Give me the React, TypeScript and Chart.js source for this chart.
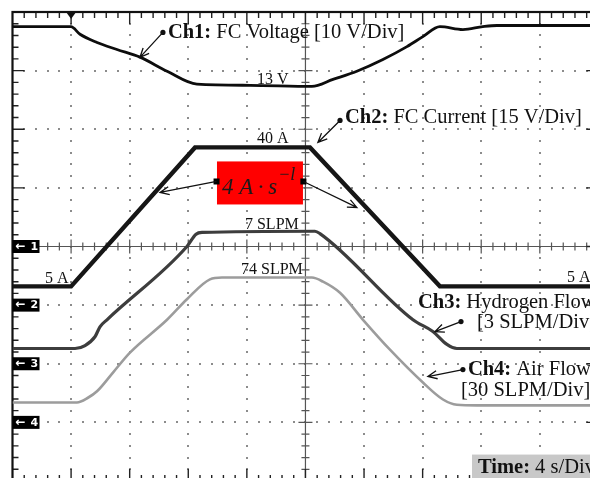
import React, { useEffect, useRef } from "react";
import { Chart, registerables } from "chart.js";

Chart.register(...registerables);

// ---- Scope settings ----
const SEC_PER_DIV = 4;
const X_DIVS = 10;
const Y_DIVS = 8;
const channelMarkers = ["1", "2", "3", "4"];
const channelMarkerDiv = [0, -1, -2, -3];
const triggerTime = 4;

// ---- Traces (time in s, level in screen divisions) ----
const ch1Time = [0, 3.99, 4.61, 5.77, 7.13, 8.7, 10.55, 12.59, 16.21, 20.44, 21.88, 23.51, 25.29, 26.93, 28.02, 29.18, 30.75, 32.11, 33.07, 40];
const ch1Div = [3.75, 3.75, 3.62, 3.48, 3.36, 3.23, 2.99, 2.77, 2.75, 2.73, 2.85, 2.99, 3.19, 3.41, 3.58, 3.75, 3.7, 3.75, 3.77, 3.77];

const ch2Time = [0, 4.0, 12.46, 20.31, 29.18, 40];
const ch2Div = [-0.68, -0.68, 1.69, 1.69, -0.68, -0.68];

const ch3Time = [0, 4.27, 4.95, 5.63, 5.97, 6.45, 11.91, 12.53, 12.94, 20.65, 20.99, 27.34, 28.7, 29.66, 30.34, 40];
const ch3Div = [-1.74, -1.74, -1.69, -1.54, -1.37, -1.25, 0, 0.21, 0.24, 0.26, 0.22, -1.25, -1.45, -1.67, -1.74, -1.74];

const ch4Time = [0, 4.4, 5.15, 5.77, 6.86, 8.02, 10.55, 11.91, 13.48, 14.3, 20.44, 21.2, 22.36, 23.93, 25.77, 28.02, 29.39, 30.34, 31.71, 40];
const ch4Div = [-2.66, -2.66, -2.58, -2.47, -2.15, -1.81, -1.25, -0.9, -0.56, -0.53, -0.53, -0.6, -0.79, -1.25, -1.76, -2.32, -2.61, -2.7, -2.71, -2.71];

// ---- Annotation texts ----
const levelLabels = ["13 V", "40 A", "7 SLPM", "74 SLPM", "5 A", "5 A"];
const levelLabelAt = [[16.69, 2.85], [16.69, 1.843], [15.87, 0.375], [15.6, -0.392], [2.22, -0.546], [37.85, -0.529]];

const pts = (t: number[], d: number[]) => t.map((v, i) => ({ x: v, y: d[i] }));

const SERIF = '"Liberation Serif", "Times New Roman", serif';

function drawArrow(ctx: CanvasRenderingContext2D, x0: number, y0: number, x1: number, y1: number) {
  ctx.beginPath();
  ctx.moveTo(x0, y0);
  ctx.lineTo(x1, y1);
  const ang = Math.atan2(y1 - y0, x1 - x0);
  const L = 10;
  const s = 0.42;
  ctx.moveTo(x1 - L * Math.cos(ang - s), y1 - L * Math.sin(ang - s));
  ctx.lineTo(x1, y1);
  ctx.lineTo(x1 - L * Math.cos(ang + s), y1 - L * Math.sin(ang + s));
  ctx.stroke();
}

function drawMixed(ctx: CanvasRenderingContext2D, x: number, y: number, boldPart: string, rest: string, size: number) {
  ctx.textBaseline = "middle";
  ctx.textAlign = "left";
  ctx.fillStyle = "#111";
  ctx.font = `bold ${size}px ${SERIF}`;
  ctx.fillText(boldPart, x, y);
  const w = ctx.measureText(boldPart).width;
  ctx.font = `${size}px ${SERIF}`;
  ctx.fillText(rest, x + w, y);
}

const gridPlugin = {
  id: "scopeGrid",
  beforeDatasetsDraw(chart: any) {
    const { ctx, chartArea: a, scales } = chart;
    const xs = scales.x, ys = scales.y;
    const X = (t: number) => xs.getPixelForValue(t);
    const Y = (d: number) => ys.getPixelForValue(d);
    ctx.save();
    ctx.fillStyle = "#8c8c8c";
    // dotted verticals
    for (let i = 1; i < X_DIVS; i++) {
      if (i === X_DIVS / 2) continue;
      const px = X(i * SEC_PER_DIV);
      for (let k = 1; k < Y_DIVS * 5; k++) {
        const py = Y(-Y_DIVS / 2 + k * 0.2);
        ctx.fillRect(Math.round(px) - 1, Math.round(py) - 1, 2, 2);
      }
    }
    // dotted horizontals
    for (let j = 1; j < Y_DIVS; j++) {
      if (j === Y_DIVS / 2) continue;
      const py = Y(-Y_DIVS / 2 + j);
      for (let k = 1; k < X_DIVS * 5; k++) {
        const px = X(k * 0.2 * SEC_PER_DIV);
        ctx.fillRect(Math.round(px) - 1, Math.round(py) - 1, 2, 2);
      }
    }
    // center axes
    ctx.strokeStyle = "#555";
    ctx.lineWidth = 1.2;
    const cx = X((X_DIVS / 2) * SEC_PER_DIV);
    const cy = Y(0);
    ctx.beginPath();
    ctx.moveTo(a.left, cy); ctx.lineTo(a.right, cy);
    ctx.moveTo(cx, a.top); ctx.lineTo(cx, a.bottom);
    for (let k = 1; k < X_DIVS * 5; k++) {
      const px = X(k * 0.2 * SEC_PER_DIV);
      const h = k % 5 === 0 ? 7 : 4;
      ctx.moveTo(px, cy - h); ctx.lineTo(px, cy + h);
    }
    for (let k = 1; k < Y_DIVS * 5; k++) {
      const py = Y(-Y_DIVS / 2 + k * 0.2);
      const h = k % 5 === 0 ? 7 : 4;
      ctx.moveTo(cx - h, py); ctx.lineTo(cx + h, py);
    }
    ctx.stroke();
    // border + border ticks
    ctx.strokeStyle = "#222";
    ctx.lineWidth = 1.4;
    ctx.beginPath();
    for (let k = 1; k < X_DIVS * 5; k++) {
      const px = X(k * 0.2 * SEC_PER_DIV);
      const h = k % 5 === 0 ? 12 : 6;
      ctx.moveTo(px, a.top); ctx.lineTo(px, a.top + h);
      ctx.moveTo(px, a.bottom); ctx.lineTo(px, a.bottom - h);
    }
    for (let k = 1; k < Y_DIVS * 5; k++) {
      const py = Y(-Y_DIVS / 2 + k * 0.2);
      const h = k % 5 === 0 ? 12 : 6;
      ctx.moveTo(a.left, py); ctx.lineTo(a.left + h, py);
      ctx.moveTo(a.right, py); ctx.lineTo(a.right - h, py);
    }
    ctx.stroke();
    ctx.lineWidth = 2.2;
    ctx.strokeStyle = "#111";
    ctx.strokeRect(a.left, a.top, a.right - a.left, a.bottom - a.top);
    ctx.restore();
  },
  afterDatasetsDraw(chart: any) {
    const { ctx, chartArea: a, scales } = chart;
    const xs = scales.x, ys = scales.y;
    const X = (t: number) => xs.getPixelForValue(t);
    const Y = (d: number) => ys.getPixelForValue(d);
    ctx.save();
    // trigger marker
    const tx = X(triggerTime);
    ctx.fillStyle = "#111";
    ctx.beginPath();
    ctx.moveTo(tx - 5, a.top);
    ctx.lineTo(tx + 5, a.top);
    ctx.lineTo(tx, a.top + 7);
    ctx.closePath();
    ctx.fill();
    // channel ground markers
    channelMarkers.forEach((m, i) => {
      const py = Y(channelMarkerDiv[i]);
      ctx.fillStyle = "#000";
      ctx.fillRect(a.left, py - 6.5, 27, 13);
      ctx.fillStyle = "#fff";
      ctx.font = `bold 12px "DejaVu Sans", sans-serif`;
      ctx.textBaseline = "middle";
      ctx.textAlign = "left";
      ctx.fillText("\u2190", a.left + 3, py);
      ctx.font = `bold 11px "DejaVu Sans", sans-serif`;
      ctx.fillText(m, a.left + 18, py + 0.5);
    });

    // level labels
    ctx.fillStyle = "#111";
    ctx.font = `16px ${SERIF}`;
    ctx.textBaseline = "middle";
    ctx.textAlign = "left";
    levelLabels.forEach((s, i) => {
      ctx.fillText(s, X(levelLabelAt[i][0]), Y(levelLabelAt[i][1]));
    });

    ctx.strokeStyle = "#111";
    ctx.fillStyle = "#111";
    ctx.lineWidth = 1.3;
    const dot = (t: number, d: number) => {
      ctx.fillStyle = "#111";
      ctx.beginPath();
      ctx.arc(X(t), Y(d), 2.6, 0, Math.PI * 2);
      ctx.fill();
    };
    const LBL = 20.5;
    // Ch1
    dot(10.27, 3.652);
    drawArrow(ctx, X(10.27), Y(3.652), X(8.7), Y(3.225));
    drawMixed(ctx, X(10.61), Y(3.652), "Ch1:", " FC Voltage [10 V/Div]", LBL);
    // Ch2
    dot(22.36, 2.15);
    drawArrow(ctx, X(22.36), Y(2.15), X(20.85), Y(1.775));
    drawMixed(ctx, X(22.7), Y(2.2), "Ch2:", " FC Current [15 V/Div]", LBL);
    // Ch3
    drawMixed(ctx, X(27.68), Y(-0.96), "Ch3:", " Hydrogen Flow", LBL);
    dot(30.62, -1.28);
    drawArrow(ctx, X(30.62), Y(-1.28), X(28.84), Y(-1.451));
    ctx.fillStyle = "#111";
    ctx.font = `${LBL}px ${SERIF}`;
    ctx.fillText("[3 SLPM/Div]", X(31.71), Y(-1.297));
    // Ch4
    dot(30.75, -2.099);
    drawArrow(ctx, X(30.75), Y(-2.099), X(28.36), Y(-2.218));
    drawMixed(ctx, X(31.09), Y(-2.099), "Ch4:", " Air Flow", LBL);
    ctx.font = `${LBL}px ${SERIF}`;
    ctx.fillText("[30 SLPM/Div]", X(30.62), Y(-2.457));

    // Slope box
    const bx0 = X(13.96), bx1 = X(19.83), by0 = Y(1.451), by1 = Y(0.717);
    ctx.fillStyle = "#ff0000";
    ctx.fillRect(bx0, by0, bx1 - bx0, by1 - by0);
    ctx.fillStyle = "#1a1a1a";
    ctx.textBaseline = "alphabetic";
    ctx.font = `italic 23px ${SERIF}`;
    const base = "4 A\u2009\u00b7\u2009s";
    ctx.fillText(base, X(14.3), Y(0.887));
    const bw = ctx.measureText(base).width;
    ctx.font = `italic 18px ${SERIF}`;
    ctx.fillText("\u2212l", X(14.3) + bw + 1, Y(1.13));
    ctx.fillStyle = "#000";
    ctx.fillRect(X(13.93) - 3, Y(1.109) - 3, 6, 6);
    ctx.fillRect(X(19.86) - 3, Y(1.109) - 3, 6, 6);
    ctx.strokeStyle = "#111";
    drawArrow(ctx, X(13.93), Y(1.109), X(10.07), Y(0.922));
    drawArrow(ctx, X(19.86), Y(1.109), X(23.51), Y(0.666));

    // Time box
    const tbx = X(31.37), tby = Y(-3.549);
    ctx.fillStyle = "#c8c8c8";
    ctx.fillRect(tbx, tby, a.right - tbx, a.bottom - tby);
    drawMixed(ctx, X(31.78), Y(-3.77), "Time:", " 4 s/Div", LBL);
    ctx.restore();
  },
};

export default function App() {
  const ref = useRef<HTMLCanvasElement | null>(null);
  useEffect(() => {
    if (!ref.current) return;
    const chart = new Chart(ref.current, {
      type: "line",
      data: {
        datasets: [
          { label: "Ch1", data: pts(ch1Time, ch1Div), borderColor: "#0d0d0d", borderWidth: 2.8, cubicInterpolationMode: "monotone" },
          { label: "Ch2", data: pts(ch2Time, ch2Div), borderColor: "#161616", borderWidth: 4.4, tension: 0 },
          { label: "Ch3", data: pts(ch3Time, ch3Div), borderColor: "#3d3d3d", borderWidth: 3.2, cubicInterpolationMode: "monotone" },
          { label: "Ch4", data: pts(ch4Time, ch4Div), borderColor: "#9c9c9c", borderWidth: 2.6, cubicInterpolationMode: "monotone" },
        ],
      },
      options: {
        responsive: false,
        devicePixelRatio: 1,
        animation: false,
        layout: { padding: { left: 12.5, top: 12, right: 1.6, bottom: 1 } },
        elements: { point: { radius: 0 }, line: { fill: false } },
        plugins: { legend: { display: false }, tooltip: { enabled: false } },
        scales: {
          x: { type: "linear", min: 0, max: X_DIVS * SEC_PER_DIV, display: false },
          y: { type: "linear", min: -Y_DIVS / 2, max: Y_DIVS / 2, display: false },
        },
      },
      plugins: [gridPlugin],
    } as any);
    return () => chart.destroy();
  }, []);
  return (
    <div style={{ position: "fixed", left: 0, top: 0, width: 590, height: 478, overflow: "hidden", background: "#fff" }}>
      <canvas ref={ref} width={600} height={482} style={{ display: "block", width: 600, height: 482 }} />
    </div>
  );
}
